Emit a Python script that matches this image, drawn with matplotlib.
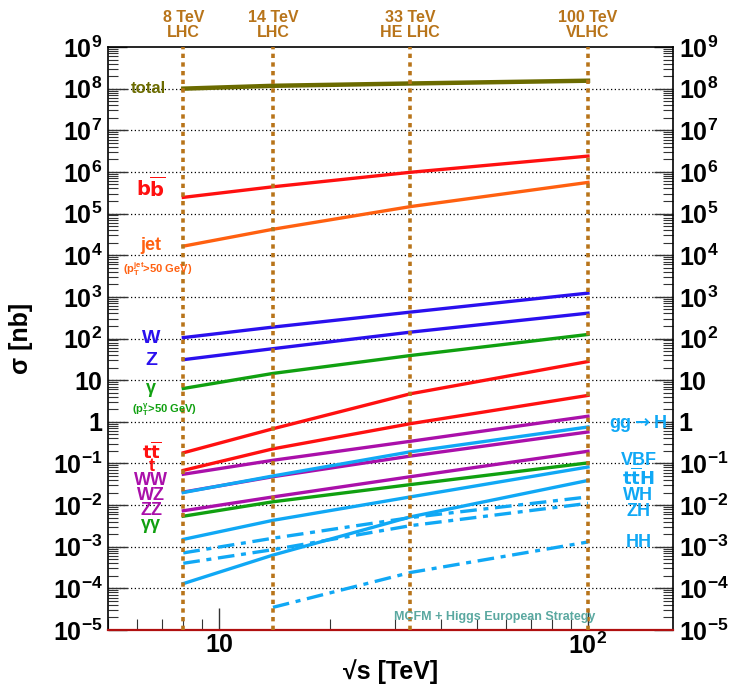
import matplotlib
matplotlib.use('Agg')
import matplotlib.pyplot as plt
import numpy as np
from matplotlib.ticker import LogLocator, FuncFormatter, FixedLocator

plt.rcParams['font.family'] = ['Liberation Sans', 'DejaVu Sans']
plt.rcParams['font.weight'] = 'bold'
plt.rcParams['mathtext.fontset'] = 'custom'
plt.rcParams['mathtext.rm'] = 'Liberation Sans:bold'
plt.rcParams['mathtext.bf'] = 'Liberation Sans:bold'
plt.rcParams['mathtext.it'] = 'Liberation Sans:bold'

# collider energies (TeV)
energies = [8, 14, 33, 100]
energies_hh = [14, 33, 100]
colliders = ['8 TeV\nLHC', '14 TeV\nLHC', '33 TeV\nHE LHC', '100 TeV\nVLHC']

# cross sections in nb
total = [1.0e8, 1.17e8, 1.33e8, 1.55e8]
bb = [2.45e5, 4.4e5, 9.8e5, 2.4e6]
jet = [1.65e4, 4.2e4, 1.47e5, 5.6e5]
w = [105, 188, 430, 1230]
z = [31, 57, 142, 406]
gam = [6.3, 14.5, 39, 125]
ttbar = [0.18, 0.68, 4.7, 28]
top = [0.068, 0.224, 0.9, 4.3]
ww = [0.055, 0.119, 0.34, 1.36]
wz = [0.0205, 0.048, 0.15, 0.57]
zz = [0.0073, 0.0157, 0.048, 0.196]
gamgam = [0.0054, 0.012, 0.031, 0.103]
ggh = [0.0200, 0.050, 0.19, 0.75]
vbf = [1.5e-3, 4.3e-3, 0.0157, 0.082]
tth = [1.3e-4, 6.3e-4, 5.2e-3, 0.039]
wh = [7.1e-4, 1.6e-3, 5.0e-3, 0.0157]
zh = [4.0e-4, 8.5e-4, 3.2e-3, 0.011]
hh = [3.5e-5, 2.4e-4, 1.3e-3]

c_olive = '#6b6b00'
c_red = '#ff1010'
c_orange = '#ff6010'
c_blue = '#2a10ee'
c_green = '#10a010'
c_mag = '#aa10aa'
c_sky = '#10a8f5'
c_brown = '#b8741a'

fig = plt.figure(figsize=(7.35, 6.92), dpi=100)
ax = fig.add_axes([108/735, 62/692, 565/735, 583/692])
ax.set_xscale('log')
ax.set_yscale('log')
ax.set_xlim(5, 170)
ax.set_ylim(1e-5, 1e9)

# horizontal dotted grid
for e in range(-4, 9):
    ax.axhline(10.0**e, color='black', lw=0.9, ls=(0, (1, 2)), zorder=1)

lw = 2.4
dashdot = (0, (5, 2, 1.5, 2))
ax.plot(energies, total, color=c_olive, lw=lw + 0.8, zorder=3)
ax.plot(energies, bb, color=c_red, lw=lw, zorder=3)
ax.plot(energies, jet, color=c_orange, lw=lw, zorder=3)
ax.plot(energies, w, color=c_blue, lw=lw, zorder=3)
ax.plot(energies, z, color=c_blue, lw=lw, zorder=3)
ax.plot(energies, gam, color=c_green, lw=lw, zorder=3)
ax.plot(energies, ttbar, color=c_red, lw=lw, zorder=3)
ax.plot(energies, top, color=c_red, lw=lw, zorder=3)
ax.plot(energies, ww, color=c_mag, lw=lw, zorder=3)
ax.plot(energies, wz, color=c_mag, lw=lw, zorder=3)
ax.plot(energies, zz, color=c_mag, lw=lw, zorder=3)
ax.plot(energies, gamgam, color=c_green, lw=lw, zorder=3)
ax.plot(energies, ggh, color=c_sky, lw=lw, zorder=4)
ax.plot(energies, vbf, color=c_sky, lw=lw, zorder=4)
ax.plot(energies, tth, color=c_sky, lw=lw, zorder=4)
ax.plot(energies, wh, color=c_sky, lw=lw, ls=dashdot, zorder=4)
ax.plot(energies, zh, color=c_sky, lw=lw, ls=dashdot, zorder=4)
ax.plot(energies_hh, hh, color=c_sky, lw=lw, ls=dashdot, zorder=4)

# collider energy markers
for e, lab in zip(energies, colliders):
    ax.axvline(e, color=c_brown, lw=2.6, ls=(0, (1.2, 1.2)), zorder=5)
    ax.text(e, 1.012, lab, transform=ax.get_xaxis_transform(), ha='center',
            va='bottom', color=c_brown, fontsize=11.5, fontweight='bold',
            linespacing=1.0)

# process labels on the left
lx = 6.55
def lab(x, y, s, c, fs=13, **kw):
    ax.text(x, y, s, color=c, fontsize=fs, ha='center', va='center',
            fontweight='bold', zorder=6, **kw)

lab(6.45, 1.0e8, 'total', c_olive, 12)
lab(lx, 10**5.6, r'$\mathbf{b\overline{b}}$', c_red, 14, math_fontfamily='dejavusans')
lab(lx, 10**4.23, 'jet', c_orange, 13)
lab(6.8, 10**3.66, r'(p$_{T}^{jet}$>50 GeV)', c_orange, 8)
lab(lx, 10**2.0, 'W', c_blue, 14)
lab(lx, 10**1.47, 'Z', c_blue, 14)
lab(lx, 10**0.80, 'γ', c_green, 13)
lab(7.1, 10**0.30, r'(p$_{T}^{\gamma}$>50 GeV)', c_green, 8)
lab(lx, 10**-0.73, r'$\mathbf{t\overline{t}}$', c_red, 13, math_fontfamily='dejavusans')
lab(lx, 10**-1.07, 't', c_red, 13)
lab(lx, 10**-1.40, 'WW', c_mag, 13)
lab(lx, 10**-1.76, 'WZ', c_mag, 13)
lab(lx, 10**-2.14, 'ZZ', c_mag, 13)
lab(lx, 10**-2.46, 'γγ', c_green, 13)

# Higgs labels on the right
rx = 137
lab(rx, 10**-0.03, r'gg$\mathbf{\rightarrow}$H', c_sky, 13, math_fontfamily='dejavusans')
lab(rx, 10**-0.92, 'VBF', c_sky, 13)
lab(rx, 10**-1.35, r'$\mathbf{t\overline{t}H}$', c_sky, 13, math_fontfamily='dejavusans')
lab(rx, 10**-1.76, 'WH', c_sky, 13)
lab(rx, 10**-2.15, 'ZH', c_sky, 13)
lab(rx, 10**-2.89, 'HH', c_sky, 13)

ax.text(56, 10**-4.69, 'MCFM + Higgs European Strategy', color='#5aa8a0',
        fontsize=9, ha='center', va='center', fontweight='bold', zorder=6)

# axes styling
def yfmt(v, pos):
    e = int(round(np.log10(v)))
    if e == 0:
        return '1'
    if e == 1:
        return '10'
    return r'$10^{%d}$' % e

def xfmt(v, pos):
    e = int(round(np.log10(v)))
    if e == 1:
        return '10'
    return r'$10^{%d}$' % e

ax.yaxis.set_major_locator(LogLocator(base=10, numticks=30))
ax.yaxis.set_minor_locator(LogLocator(base=10, subs=np.arange(2, 10), numticks=30))
ax.yaxis.set_major_formatter(FuncFormatter(yfmt))
ax.xaxis.set_major_locator(FixedLocator([10, 100]))
ax.xaxis.set_minor_locator(FixedLocator([5, 6, 7, 8, 9, 20, 30, 40, 50, 60, 70, 80, 90]))
ax.xaxis.set_major_formatter(FuncFormatter(xfmt))
ax.xaxis.set_minor_formatter(FuncFormatter(lambda v, p: ''))

ax.tick_params(axis='y', which='both', direction='in', left=True, right=True,
               labelleft=True, labelright=True, labelsize=18, color='#333333')
ax.tick_params(axis='y', which='major', length=14, width=1.0, pad=4)
ax.tick_params(axis='y', which='minor', length=7, width=0.8)
ax.tick_params(axis='x', which='both', direction='in', top=False, bottom=True,
               labelsize=18, color='#333333')
ax.tick_params(axis='x', which='major', length=16, width=1.0, pad=2)
ax.tick_params(axis='x', which='minor', length=8, width=0.8)
for t in ax.get_yticklabels() + ax.get_xticklabels():
    t.set_fontweight('bold')

for s in ['left', 'right', 'top']:
    ax.spines[s].set_linewidth(1.2)
ax.spines['bottom'].set_color('#b01010')
ax.spines['bottom'].set_linewidth(1.6)

ax.set_xlabel('√s [TeV]', fontsize=18, fontweight='bold', labelpad=0)
ax.set_ylabel('σ [nb]', fontsize=18, fontweight='bold', labelpad=14)

fig.savefig('out.png', dpi=100)
